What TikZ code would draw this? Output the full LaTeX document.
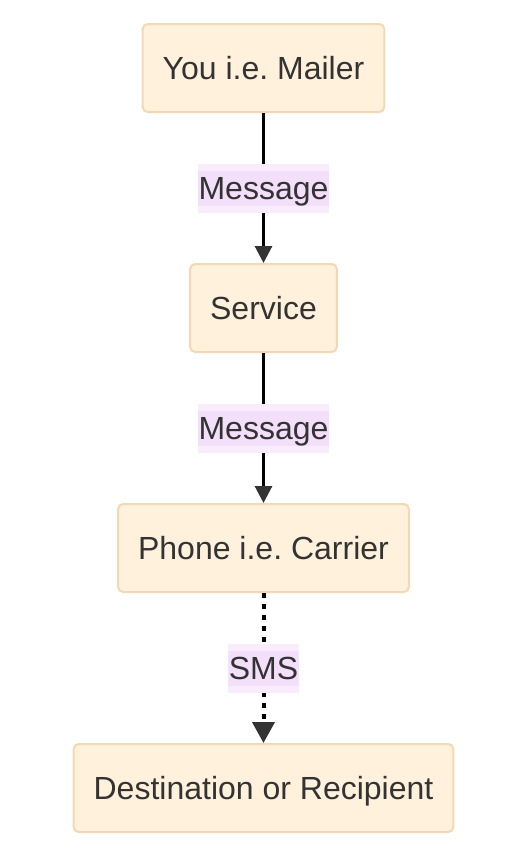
\documentclass[tikz,border=0pt]{standalone}
\usepackage{fontspec}
\setmainfont{Liberation Sans}
\usetikzlibrary{arrows.meta,positioning}
\definecolor{boxfill}{HTML}{FFF1DC}
\definecolor{boxline}{HTML}{F2D9B3}
\definecolor{msgfill}{HTML}{F4DFFB}
\definecolor{msgband}{HTML}{F9ECFC}
\definecolor{inkgray}{HTML}{333333}
\frenchspacing

\begin{document}
\begin{tikzpicture}[x=1pt,y=-1pt,
  box/.style={draw=boxline,line width=2pt,fill=boxfill,rounded corners=5pt,
    minimum height=88pt,inner xsep=20pt,text=inkgray,
    font=\fontsize{32}{38}\selectfont,text height=23pt,text depth=0pt},
  msg/.style={fill=msgband,inner xsep=0.5pt,inner ysep=0pt,minimum height=49pt,
    text=inkgray,font=\fontsize{32}{38}\selectfont,text height=23pt,text depth=0pt,
    path picture={\fill[msgfill] ([yshift=-7pt]path picture bounding box.north west)
      rectangle ([yshift=7pt]path picture bounding box.south east);}},
  flow/.style={draw=black,line width=3pt,-{Triangle[length=17pt,width=17pt,color=inkgray]}},
  sms/.style={draw=black,line width=4pt,dash pattern=on 5pt off 6pt,
    -{Triangle[length=21pt,width=22pt,color=inkgray]}}]
  \useasboundingbox (0,0) rectangle (509,860); % page size

  \node[box] (mailer) at (263.5,68) {You i.e. Mailer};       % sender
  \node[box,below=150pt of mailer] (service) {Service};
  \node[box,below=150pt of service] (carrier) {Phone i.e. Carrier};
  \node[box,below=150pt of carrier] (recipient) {Destination or Recipient};

  \draw[flow] (mailer) -- node[msg]{Message} (service);
  \draw[flow] (service) -- node[msg]{Message} (carrier);
  \draw[sms] (carrier) -- node[msg]{SMS} (recipient);       % dotted link
\end{tikzpicture}
\end{document}
